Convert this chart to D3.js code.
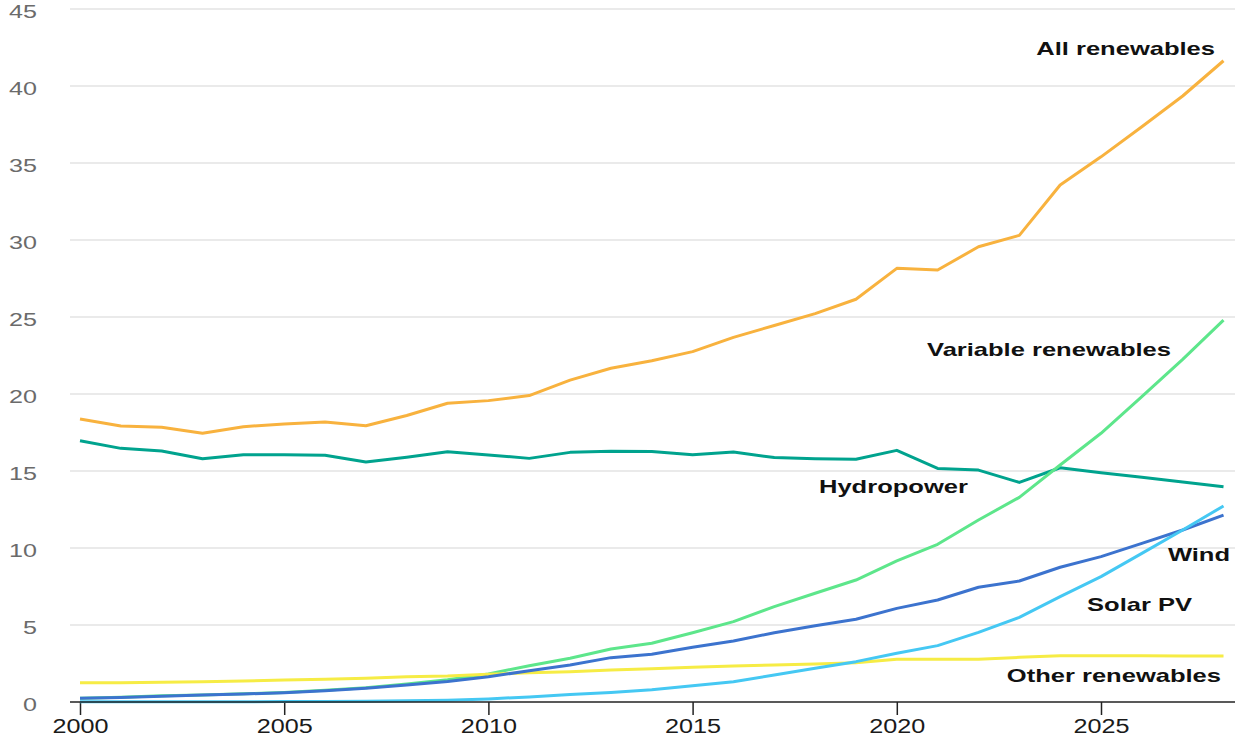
<!DOCTYPE html>
<html>
<head>
<meta charset="utf-8">
<script src="https://cdn.jsdelivr.net/npm/d3@7"></script>
<style>
  html, body { margin: 0; padding: 0; background: #fff; }
  svg { display: block; font-family: "Liberation Sans", Arial, Helvetica, sans-serif; }
</style>
</head>
<body>
<svg id="chart" width="1248" height="745"></svg>
<script>
const years = d3.range(2000, 2029);
const yTicks = [0, 5, 10, 15, 20, 25, 30, 35, 40, 45];
const xTicks = [2000, 2005, 2010, 2015, 2020, 2025];

const allRenewables = [18.38, 17.92, 17.84, 17.45, 17.88, 18.05, 18.18, 17.94, 18.6, 19.4,
  19.57, 19.9, 20.9, 21.67, 22.16, 22.75, 23.68, 24.45, 25.22, 26.15,
  28.16, 28.05, 29.56, 30.3, 33.57, 35.4, 37.35, 39.35, 41.64];
const hydropower = [16.97, 16.47, 16.3, 15.8, 16.06, 16.06, 16.02, 15.58, 15.9, 16.25,
  16.04, 15.82, 16.21, 16.28, 16.26, 16.06, 16.23, 15.87, 15.8, 15.76,
  16.34, 15.17, 15.06, 14.26, 15.21, 14.89, 14.59, 14.29, 13.98];
const variableRenewables = [0.25, 0.31, 0.4, 0.46, 0.53, 0.62, 0.76, 0.93, 1.17, 1.45,
  1.82, 2.36, 2.84, 3.44, 3.81, 4.5, 5.22, 6.19, 7.06, 7.92,
  9.16, 10.24, 11.82, 13.29, 15.39, 17.45, 19.83, 22.25, 24.8];
const wind = [0.24, 0.3, 0.38, 0.45, 0.52, 0.6, 0.73, 0.89, 1.1, 1.33,
  1.64, 2.03, 2.4, 2.88, 3.1, 3.55, 3.96, 4.5, 4.95, 5.37,
  6.08, 6.62, 7.45, 7.86, 8.75, 9.44, 10.3, 11.17, 12.14];
const solarPV = [0.01, 0.01, 0.02, 0.02, 0.02, 0.03, 0.04, 0.05, 0.08, 0.12,
  0.2, 0.33, 0.48, 0.62, 0.8, 1.05, 1.32, 1.75, 2.19, 2.62,
  3.16, 3.66, 4.52, 5.5, 6.84, 8.14, 9.65, 11.17, 12.73];
const otherRenewables = [1.25, 1.25, 1.29, 1.31, 1.36, 1.43, 1.47, 1.54, 1.64, 1.69,
  1.8, 1.9, 1.97, 2.08, 2.16, 2.25, 2.34, 2.4, 2.47, 2.55,
  2.77, 2.77, 2.77, 2.9, 3.0, 3.0, 3.0, 2.98, 2.98];

// drawing order: first drawn is at the back
const seriesNames = ["All renewables", "Hydropower", "Variable renewables", "Other renewables", "Wind", "Solar PV"];
const seriesValues = [allRenewables, hydropower, variableRenewables, otherRenewables, wind, solarPV];
const seriesColors = ["#F8B23E", "#00A38E", "#5DE68B", "#F6EC45", "#3C73CE", "#45C8F3"];

// label placement (style/layout)
const labelPos = {
  "All renewables":      { x: 1215, y: 55,  anchor: "end" },
  "Variable renewables": { x: 1171, y: 356, anchor: "end" },
  "Hydropower":          { x: 819,  y: 493, anchor: "start" },
  "Wind":                { x: 1230, y: 561, anchor: "end" },
  "Solar PV":            { x: 1192, y: 611, anchor: "end" },
  "Other renewables":    { x: 1221, y: 682, anchor: "end" }
};

const svg = d3.select("#chart");
const x = d3.scaleLinear().domain([2000, 2025]).range([80, 1101]);
const y = d3.scaleLinear().domain([0, 45]).range([702, 9]);
const plotLeft = 70, plotRight = 1235;

// gridlines
svg.append("g").selectAll("line").data(yTicks.filter(d => d > 0)).join("line")
  .attr("x1", plotLeft).attr("x2", plotRight)
  .attr("y1", d => y(d)).attr("y2", d => y(d))
  .attr("stroke", "#e3e3e3").attr("stroke-width", 1.3);

// y labels
svg.append("g").selectAll("text").data(yTicks).join("text")
  .attr("transform", d => `translate(37,${y(d) + 9}) scale(1.35,1)`)
  .attr("text-anchor", "end")
  .attr("font-size", 18.6)
  .attr("fill", "#6b6b6b")
  .text(d => d);

// x axis
const xAxis = d3.axisBottom(x).tickValues(xTicks).tickSize(13).tickFormat(d3.format("d"));
const gx = svg.append("g").attr("transform", `translate(0,${y(0)})`).call(xAxis);
gx.select(".domain").remove();
gx.selectAll(".tick line").attr("stroke", "#222").attr("stroke-width", 1.5);
gx.selectAll(".tick text")
  .attr("y", 0).attr("dy", 0)
  .attr("transform", "translate(0,31) scale(1.2,1)")
  .attr("font-size", 21)
  .attr("font-family", "Liberation Sans, Arial, sans-serif")
  .attr("fill", "#1a1a1a");

// lines
const line = d3.line().x((d, i) => x(years[i])).y(d => y(d));
svg.append("g").selectAll("path").data(seriesValues).join("path")
  .attr("d", d => line(d))
  .attr("fill", "none")
  .attr("stroke", (d, i) => seriesColors[i])
  .attr("stroke-width", 3)
  .attr("stroke-linejoin", "round");

// baseline axis line
svg.append("line")
  .attr("x1", plotLeft).attr("x2", plotRight)
  .attr("y1", y(0)).attr("y2", y(0))
  .attr("stroke", "#222").attr("stroke-width", 1.5);

// series labels
svg.append("g").selectAll("text").data(Object.keys(labelPos)).join("text")
  .attr("transform", d => `translate(${labelPos[d].x},${labelPos[d].y}) scale(1.38,1)`)
  .attr("text-anchor", d => labelPos[d].anchor)
  .attr("font-size", 18.5)
  .attr("font-weight", "bold")
  .attr("fill", "#111")
  .text(d => d);
</script>
</body>
</html>
